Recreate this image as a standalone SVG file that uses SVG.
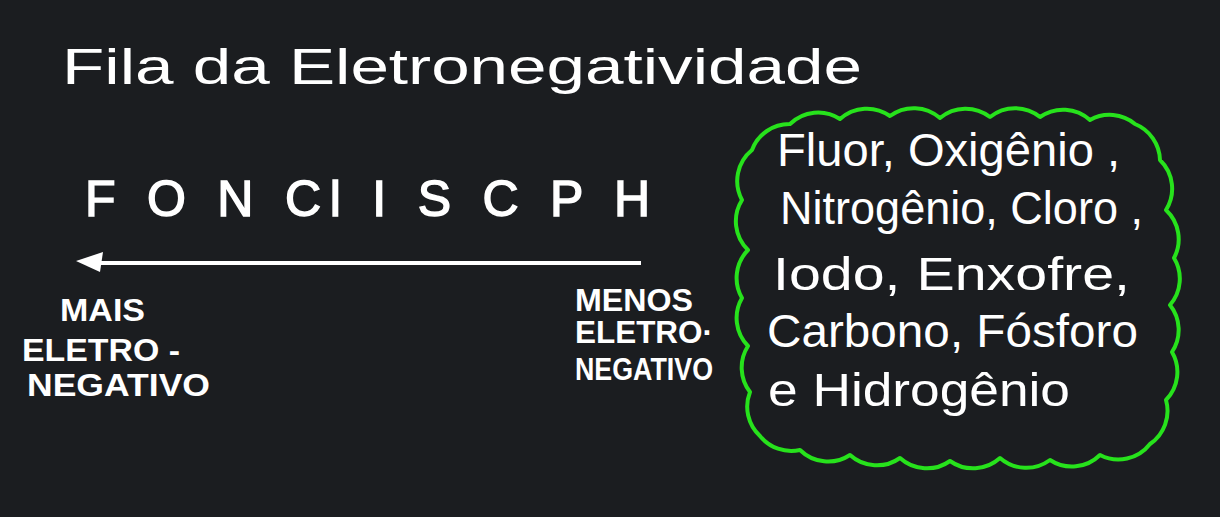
<svg xmlns="http://www.w3.org/2000/svg" width="1220" height="517" viewBox="0 0 1220 517">
<style>
.t{fill:#ffffff;font-family:"Liberation Sans","DejaVu Sans",sans-serif}
.title{font-size:50px}
.big{font-size:50px;stroke:#ffffff;stroke-width:1.5}
.lab{font-size:31px;font-weight:bold}
.cl{font-size:46px}
.cloud{fill:none;stroke:#27e21c;stroke-width:4;stroke-linejoin:round}
.conn{stroke:#ffffff;stroke-width:4;fill:none}
</style>
<rect width="1220" height="517" fill="#1b1d20"/>
<g id="title"><text class="t title" x="62" y="84" textLength="800" lengthAdjust="spacingAndGlyphs">Fila da Eletronegatividade</text></g>
<g id="series"><text class="t big" x="85" y="216" textLength="565" lengthAdjust="spacing">F O N Cl I S C P H</text></g>
<g id="connectors">
<line class="conn" x1="641" y1="263" x2="92" y2="263"/>
<path d="M76 261 L103 252 L100 272 Z" fill="#ffffff"/>
</g>
<g id="mais">
<text class="t lab" x="60" y="321" textLength="85" lengthAdjust="spacingAndGlyphs">MAIS</text>
<text class="t lab" x="22" y="361" textLength="158" lengthAdjust="spacingAndGlyphs">ELETRO -</text>
<text class="t lab" x="27" y="396" textLength="183" lengthAdjust="spacingAndGlyphs">NEGATIVO</text>
</g>
<g id="menos">
<text class="t lab" x="575" y="311" textLength="118" lengthAdjust="spacingAndGlyphs">MENOS</text>
<text class="t lab" x="575" y="343" textLength="138" lengthAdjust="spacingAndGlyphs">ELETRO·</text>
<text class="t lab" x="575" y="380" textLength="138" lengthAdjust="spacingAndGlyphs">NEGATIVO</text>
</g>
<g id="cloud-box">
<path class="cloud" d="M752 150 A40 40 0 0 1 790 124 A40 40 0 0 1 840 119 A40 40 0 0 1 890 116 A40 40 0 0 1 940 118 A40 40 0 0 1 990 117 A40 40 0 0 1 1040 117 A40 40 0 0 1 1090 120 A40 40 0 0 1 1135 124 A40 40 0 0 1 1160 160 A40 40 0 0 1 1166 210 A40 40 0 0 1 1174 258 A40 40 0 0 1 1170 305 A40 40 0 0 1 1172 352 A40 40 0 0 1 1166 400 A40 40 0 0 1 1150 444 A40 40 0 0 1 1100 455 A40 40 0 0 1 1050 460 A40 40 0 0 1 1000 458 A40 40 0 0 1 950 461 A40 40 0 0 1 900 458 A40 40 0 0 1 850 455 A40 40 0 0 1 800 450 A40 40 0 0 1 760 436 A40 40 0 0 1 750 392 A40 40 0 0 1 748 346 A40 40 0 0 1 742 298 A40 40 0 0 1 748 250 A40 40 0 0 1 742 200 A40 40 0 0 1 752 150 Z"/>
<text class="t cl" x="777" y="166" textLength="343" lengthAdjust="spacingAndGlyphs">Fluor, Oxigênio ,</text>
<text class="t cl" x="780" y="224" textLength="363" lengthAdjust="spacingAndGlyphs">Nitrogênio, Cloro ,</text>
<text class="t cl" x="773" y="290" textLength="357" lengthAdjust="spacingAndGlyphs">Iodo, Enxofre,</text>
<text class="t cl" x="767" y="347" textLength="371" lengthAdjust="spacingAndGlyphs">Carbono, Fósforo</text>
<text class="t cl" x="768" y="406" textLength="302" lengthAdjust="spacingAndGlyphs">e Hidrogênio</text>
</g>
</svg>
